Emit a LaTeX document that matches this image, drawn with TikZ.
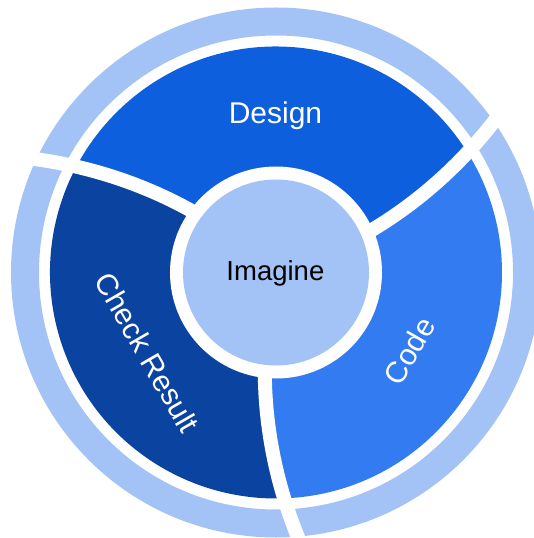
\documentclass[tikz,border=0pt]{standalone}
\usepackage{fontspec}
\setmainfont{Liberation Sans}
\definecolor{cdesign}{HTML}{0D5FDE}
\definecolor{ccode}{HTML}{327BF0}
\definecolor{ccheck}{HTML}{0A44A0}
\definecolor{clight}{HTML}{A3C3F7}
\begin{document}
\begin{tikzpicture}[x=1pt,y=1pt,
  seplabel/.style={text=white,inner sep=0pt,font=\fontsize{30}{36}\selectfont},
  sepline/.style={white,line width=14pt}]
\useasboundingbox (-276,-265.5) rectangle (258,272.5);
\def\kk{0.0675}
% outer ring
\fill[clight,even odd rule] (0,0) circle (265) (0,0) circle (237);
% Design sector
\fill[cdesign] (0,0) -- plot[domain=0:226,samples=60,variable=\rr] ({23.9+\kk*(\rr-105)}:\rr)
  arc[start angle={23.9+\kk*121}, end angle={143.9+\kk*121}, radius=226]
  -- plot[domain=226:0,samples=60,variable=\rr] ({143.9+\kk*(\rr-105)}:\rr) -- cycle;
% Check sector
\fill[ccheck] (0,0) -- plot[domain=0:226,samples=60,variable=\rr] ({143.9+\kk*(\rr-105)}:\rr)
  arc[start angle={143.9+\kk*121}, end angle={263.9+\kk*121}, radius=226]
  -- plot[domain=226:0,samples=60,variable=\rr] ({263.9+\kk*(\rr-105)}:\rr) -- cycle;
% Code sector
\fill[ccode] (0,0) -- plot[domain=0:226,samples=60,variable=\rr] ({263.9+\kk*(\rr-105)}:\rr)
  arc[start angle={263.9+\kk*121}, end angle={383.9+\kk*121}, radius=226]
  -- plot[domain=226:0,samples=60,variable=\rr] ({383.9+\kk*(\rr-105)}:\rr) -- cycle;
% separators
\foreach \a in {23.9,143.9,263.9}
  \draw[sepline] plot[domain=95:272,samples=60,variable=\rr] ({\a+\kk*(\rr-105)}:\rr);
% centre
\fill[white] (0,0) circle (106);
\fill[clight] (0,0) circle (93);
% labels
\node[seplabel,anchor=base] (design) at (-0.5,149.2) {Design};
\node[seplabel,rotate=60] (code) at (133.4,-78.3) {Code};
\node[seplabel,rotate=-60] (check) at (-128.9,-80) {Check Result};
\node[inner sep=0pt,anchor=base,font=\fontsize{27.5}{33}\selectfont] (imagine) at (-0.6,-7.5) {Imagine};
\end{tikzpicture}
\end{document}
